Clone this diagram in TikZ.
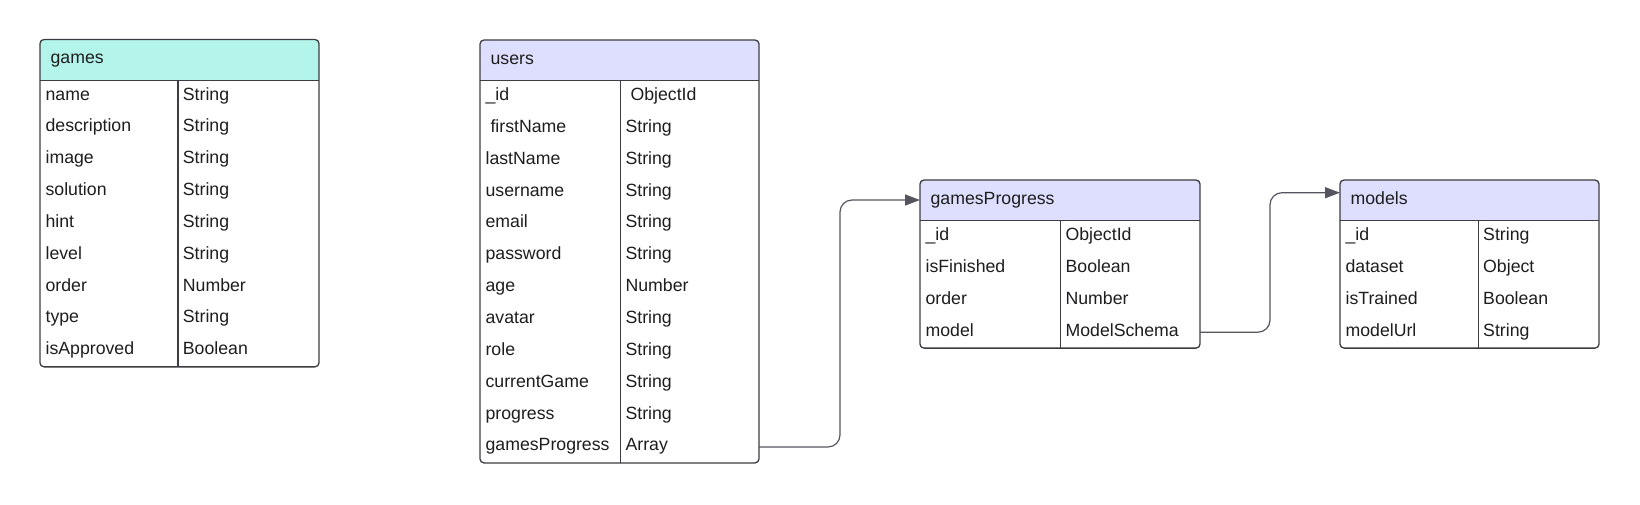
\documentclass[tikz,border=0pt]{standalone}
\usepackage{fontspec}
\setmainfont{Liberation Sans}
\usetikzlibrary{arrows.meta}
\definecolor{mint}{RGB}{180,245,235}
\definecolor{lav}{RGB}{222,222,255}
\definecolor{edge}{RGB}{60,60,66}
\definecolor{txt}{RGB}{30,30,30}
\definecolor{wire}{RGB}{85,85,95}
\tikzset{
  tabline/.style={draw=edge, line width=0.65pt},
  title/.style={anchor=base west, inner sep=0pt, text=txt, font=\fontsize{8.85}{10}\selectfont},
  cell/.style={anchor=base west, inner sep=0pt, text=txt, font=\fontsize{8.85}{10}\selectfont},
  conn/.style={draw=wire, line width=0.6pt, rounded corners=6pt, -{Triangle[length=7.5pt,width=5.5pt]}},
}
\newcommand{\dbtab}[9]{%
  \pgfmathsetmacro{\yh}{#3+40.7}%
  \pgfmathsetmacro{\ybot}{\yh+#6*31.85}%
  \begin{scope}
    \clip[rounded corners=2pt] (#2,#3) rectangle (#4,\ybot);
    \fill[#7] (#2,#3) rectangle (#4,\yh);
  \end{scope}
  \draw[tabline, rounded corners=2pt] (#2,#3) rectangle (#4,\ybot);
  \draw[tabline] (#2,\yh) -- (#4,\yh);
  \draw[tabline] (#5,\yh) -- (#5,\ybot);
  \node[title] (#1-head) at (#2+10.2,#3+24) {#8};
  \foreach \f/\t [count=\i] in {#9} {
    \pgfmathsetmacro{\yb}{\yh+(\i-1)*31.85+19.8}
    \node[cell] (#1-f\i) at (#2+5.2,\yb) {\f};
    \node[cell] (#1-t\i) at (#5+4.5,\yb) {\t};
    \coordinate (#1-r\i) at (#4, {\yh+(\i-0.5)*31.85});
  }
}
\begin{document}
\begin{tikzpicture}[x=0.5pt,y=-0.5pt]
\useasboundingbox (0,0) rectangle (1640,504);
\fill[white] (0,0) rectangle (1640,504);

\dbtab{games}{40}{39.5}{319}{178}{9}{mint}{games}{name/String, description/String, image/String, solution/String, hint/String, level/String, order/Number, type/String, isApproved/Boolean}

\dbtab{users}{480}{40}{759}{620.7}{12}{lav}{users}{\_id/\ ObjectId, \ firstName/String, lastName/String, username/String, email/String, password/String, age/Number, avatar/String, role/String, currentGame/String, progress/String, gamesProgress/Array}

\dbtab{gamesProgress}{920}{180}{1200}{1060.7}{4}{lav}{gamesProgress}{\_id/ObjectId, isFinished/Boolean, order/Number, model/ModelSchema}

\dbtab{models}{1340}{180}{1599}{1478.3}{4}{lav}{models}{\_id/String, dataset/Object, isTrained/Boolean, modelUrl/String}

\coordinate (gp-in) at (920,200);
\coordinate (models-in) at (1340,192.7);

\draw[conn] (users-r12) -- ++(81,0) |- (gp-in);
\draw[conn] (gamesProgress-r4) -- ++(70,0) |- (models-in);
\end{tikzpicture}
\end{document}
